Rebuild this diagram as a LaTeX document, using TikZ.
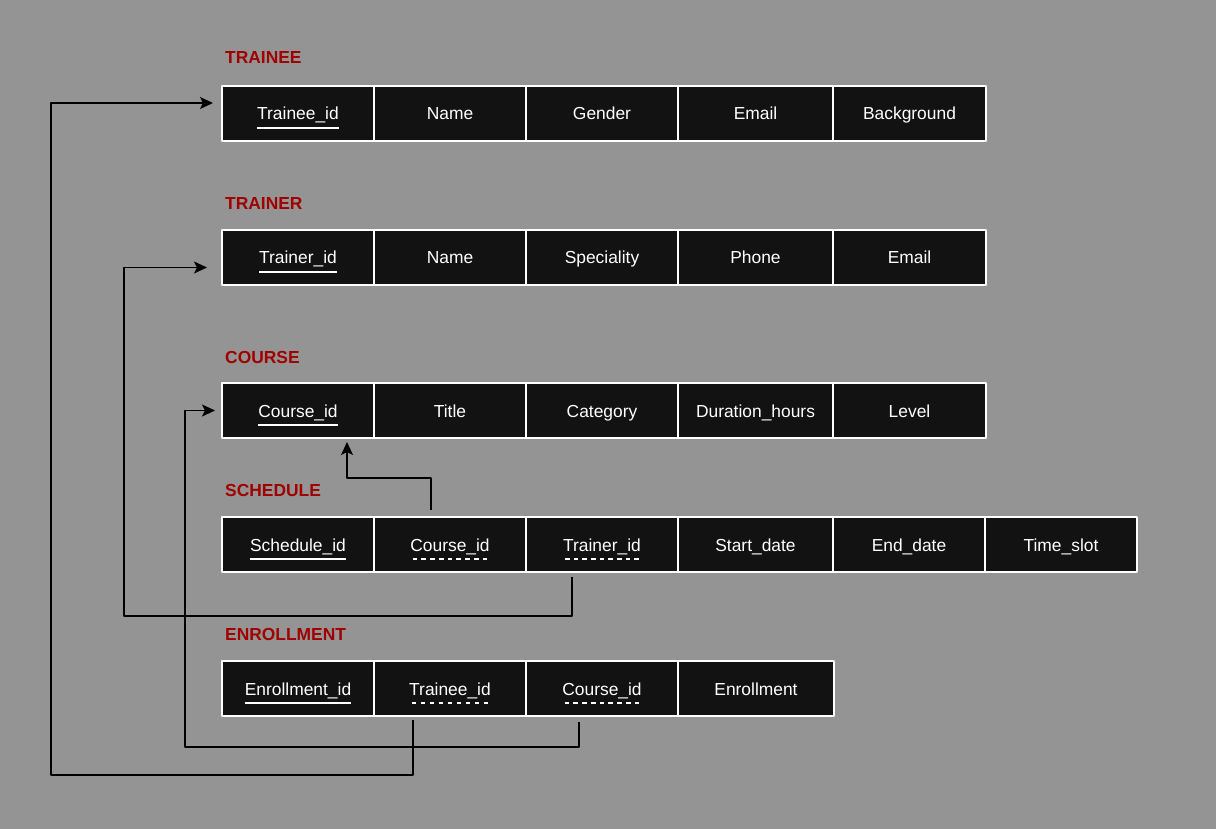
\documentclass[tikz,border=0pt]{standalone}
\usepackage{fontspec}
\setmainfont{Liberation Sans}
\usetikzlibrary{positioning,arrows.meta}
\definecolor{bg}{HTML}{949494}
\definecolor{cellfill}{HTML}{121212}
\definecolor{ttlred}{HTML}{A00000}
\newcommand{\pkey}[1]{\setbox0\hbox{#1}\rlap{\copy0}\rule[-8.6pt]{\wd0}{1.3pt}}
\newcommand{\fkey}[1]{\setbox0\hbox{#1}\rlap{\copy0}\hbox to \wd0{\xleaders\hbox to 8.6pt{\hss\rule[-8.6pt]{4.6pt}{1.3pt}\hss}\hfill}}
\begin{document}
\begin{tikzpicture}[x=1pt,y=-1pt,line join=round,>={Stealth[length=13pt,width=12pt,inset=3pt]},
	cell/.style={draw=white,line width=1.5pt,fill=cellfill,text=white,minimum height=55pt,minimum width=152pt,outer sep=0pt,inner sep=0pt,text height=15pt,text depth=2pt,font=\fontsize{17.4}{20}\selectfont},
	ttl/.style={anchor=base west,inner sep=0pt,text=ttlred,font=\fontsize{17.4}{20}\selectfont\bfseries},
	fk/.style={->,line width=1.3pt,black}]
	\fill[bg] (0,0) rectangle (1216,829);
	\useasboundingbox (0,0) rectangle (1216,829);
	\path 
	(51,775) coordinate (L1)
	(124,616) coordinate (L2)
	(185,747) coordinate (L3)
	(347,478) coordinate (L4)
	;
	\node[ttl] (TT) at (225,64) {TRAINEE};
	\node[cell,anchor=north west] (t1) at (222,86) {\pkey{Trainee\_id}};
	\foreach \txt/\w [count=\i from 2,remember=\i as \j (initially 1)] in {Name/152pt,Gender/152pt,Email/155pt,Background/153pt}
	\node[cell,minimum width=\w,right=0pt of t\j] (t\i) {\txt};
	\node[ttl] (TR) at (225,210) {TRAINER};
	\node[cell,anchor=north west] (r1) at (222,230) {\pkey{Trainer\_id}};
	\foreach \txt/\w [count=\i from 2,remember=\i as \j (initially 1)] in {Name/152pt,Speciality/152pt,Phone/155pt,Email/153pt}
	\node[cell,minimum width=\w,right=0pt of r\j] (r\i) {\txt};
	\node[ttl] (TC) at (225,363) {COURSE};
	\node[cell,anchor=north west] (c1) at (222,383) {\pkey{Course\_id}};
	\foreach \txt/\w [count=\i from 2,remember=\i as \j (initially 1)] in {Title/152pt,Category/152pt,Duration\_hours/155pt,Level/153pt}
	\node[cell,minimum width=\w,right=0pt of c\j] (c\i) {\txt};
	\node[ttl] (TS) at (225,496) {SCHEDULE};
	\node[cell,anchor=north west] (s1) at (222,517) {\pkey{Schedule\_id}};
	\foreach \txt/\w [count=\i from 2,remember=\i as \j (initially 1)] in {\fkey{Course\_id}/152pt,\fkey{Trainer\_id}/152pt,Start\_date/155pt,End\_date/152pt,Time\_slot/152pt}
	\node[cell,minimum width=\w,right=0pt of s\j] (s\i) {\txt};
	\node[ttl] (TE) at (225,640) {ENROLLMENT};
	\node[cell,anchor=north west] (e1) at (222,661) {\pkey{Enrollment\_id}};
	\foreach \txt/\w [count=\i from 2,remember=\i as \j (initially 1)] in {\fkey{Trainee\_id}/152pt,\fkey{Course\_id}/152pt,Enrollment/156pt}
	\node[cell,minimum width=\w,right=0pt of e\j] (e\i) {\txt};
	\draw[fk] ([shift={(-37,4)}]e2.south) |- (L1) |- ([shift={(-9,-10.5)}]t1.west);
	\draw[fk] ([shift={(-30,5)}]s3.south) |- (L2) |- ([shift={(-15,10)}]r1.west);
	\draw[fk] ([shift={(-23,6)}]e3.south) |- (L3) |- ([shift={(-7,0)}]c1.west);
	\draw[fk] ([shift={(-19,-7)}]s2.north) |- (L4) -- ([shift={(49,4)}]c1.south);
\end{tikzpicture}
\end{document}
